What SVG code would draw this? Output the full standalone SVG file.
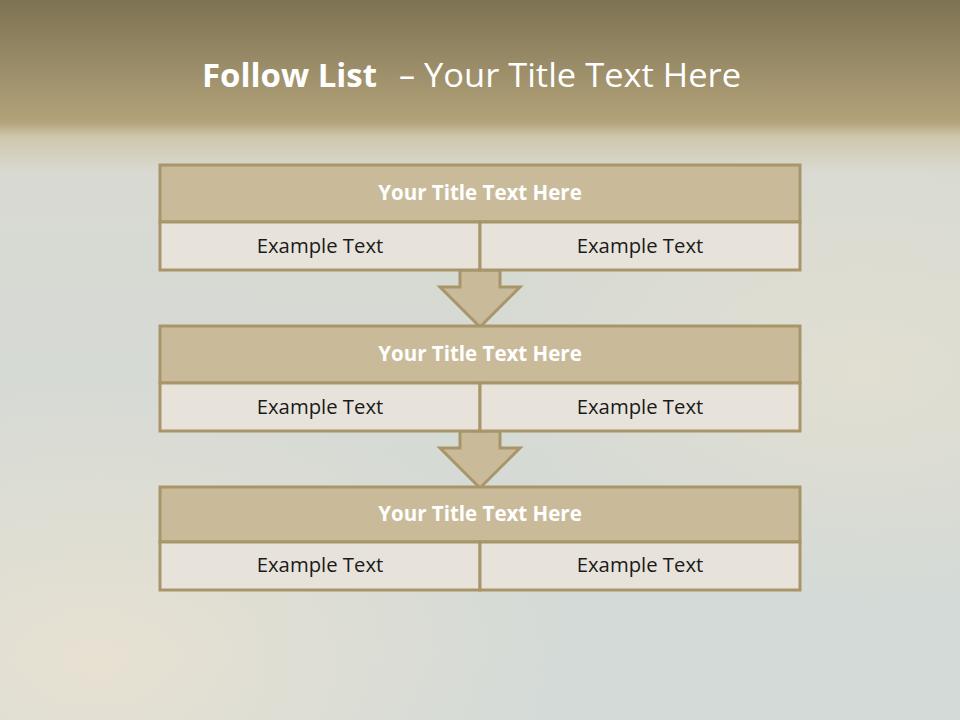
<svg xmlns="http://www.w3.org/2000/svg" width="960" height="720" viewBox="0 0 960 720">
<defs>
<linearGradient id="bg" x1="0" y1="0" x2="0" y2="1">
<stop offset="0" stop-color="#7d7253"/>
<stop offset="0.17" stop-color="#b3a37a"/>
<stop offset="0.19" stop-color="#cfc7ad"/>
<stop offset="0.24" stop-color="#d8dad2"/>
<stop offset="1" stop-color="#d3dad8"/>
</linearGradient>
<radialGradient id="warm1" cx="0.1" cy="0.9" r="0.5">
<stop offset="0" stop-color="#efe4cf" stop-opacity="0.7"/>
<stop offset="1" stop-color="#efe4cf" stop-opacity="0"/>
</radialGradient>
<radialGradient id="warm2" cx="0.9" cy="0.4" r="0.4">
<stop offset="0" stop-color="#ece3cf" stop-opacity="0.5"/>
<stop offset="1" stop-color="#ece3cf" stop-opacity="0"/>
</radialGradient>
<style>
.ttl{fill:#c9bb9a;stroke:#a8956a;stroke-width:3}
.row{fill:#e8e3da;stroke:#a8956a;stroke-width:3}
.arr{fill:#c9bb9a;stroke:#a8956a;stroke-width:3;stroke-linejoin:miter}
.th{font-family:"Open Sans","Noto Sans",sans-serif;font-weight:bold;font-size:20.5px;fill:#ffffff;text-anchor:middle}
.et{font-family:"Open Sans","Noto Sans",sans-serif;font-size:20.3px;fill:#1a1a1a;text-anchor:middle}
</style>
</defs>
<rect x="0" y="0" width="960" height="720" fill="url(#bg)"/>
<rect x="0" y="140" width="960" height="580" fill="url(#warm1)"/>
<rect x="0" y="140" width="960" height="580" fill="url(#warm2)"/>
<text x="202" y="87" font-family="Open Sans, Noto Sans, sans-serif" font-size="32" fill="#ffffff"><tspan font-weight="bold" textLength="175" lengthAdjust="spacingAndGlyphs">Follow List</tspan><tspan x="424" textLength="317" lengthAdjust="spacingAndGlyphs">Your Title Text Here</tspan></text>
<text x="407" y="87" font-family="Open Sans, Noto Sans, sans-serif" font-size="32" fill="#ffffff" text-anchor="middle">–</text>
<g id="connectors">
<path class="arr" d="M460,270 L500,270 L500,287 L520,287 L480,327 L440,287 L460,287 Z"/>
<path class="arr" d="M460,431 L500,431 L500,448 L520,448 L480,488 L440,448 L460,448 Z"/>
</g>
<g id="node1">
<rect class="ttl" x="160" y="165" width="640" height="57"/>
<rect class="row" x="160" y="222" width="320" height="48"/>
<rect class="row" x="480" y="222" width="320" height="48"/>
<text class="th" x="480" y="200">Your Title Text Here</text>
<text class="et" x="320" y="253">Example Text</text>
<text class="et" x="640" y="253">Example Text</text>
</g>
<g id="node2">
<rect class="ttl" x="160" y="326" width="640" height="57"/>
<rect class="row" x="160" y="383" width="320" height="48"/>
<rect class="row" x="480" y="383" width="320" height="48"/>
<text class="th" x="480" y="361">Your Title Text Here</text>
<text class="et" x="320" y="414">Example Text</text>
<text class="et" x="640" y="414">Example Text</text>
</g>
<g id="node3">
<rect class="ttl" x="160" y="487" width="640" height="55"/>
<rect class="row" x="160" y="542" width="320" height="48"/>
<rect class="row" x="480" y="542" width="320" height="48"/>
<text class="th" x="480" y="521">Your Title Text Here</text>
<text class="et" x="320" y="572">Example Text</text>
<text class="et" x="640" y="572">Example Text</text>
</g>
</svg>
